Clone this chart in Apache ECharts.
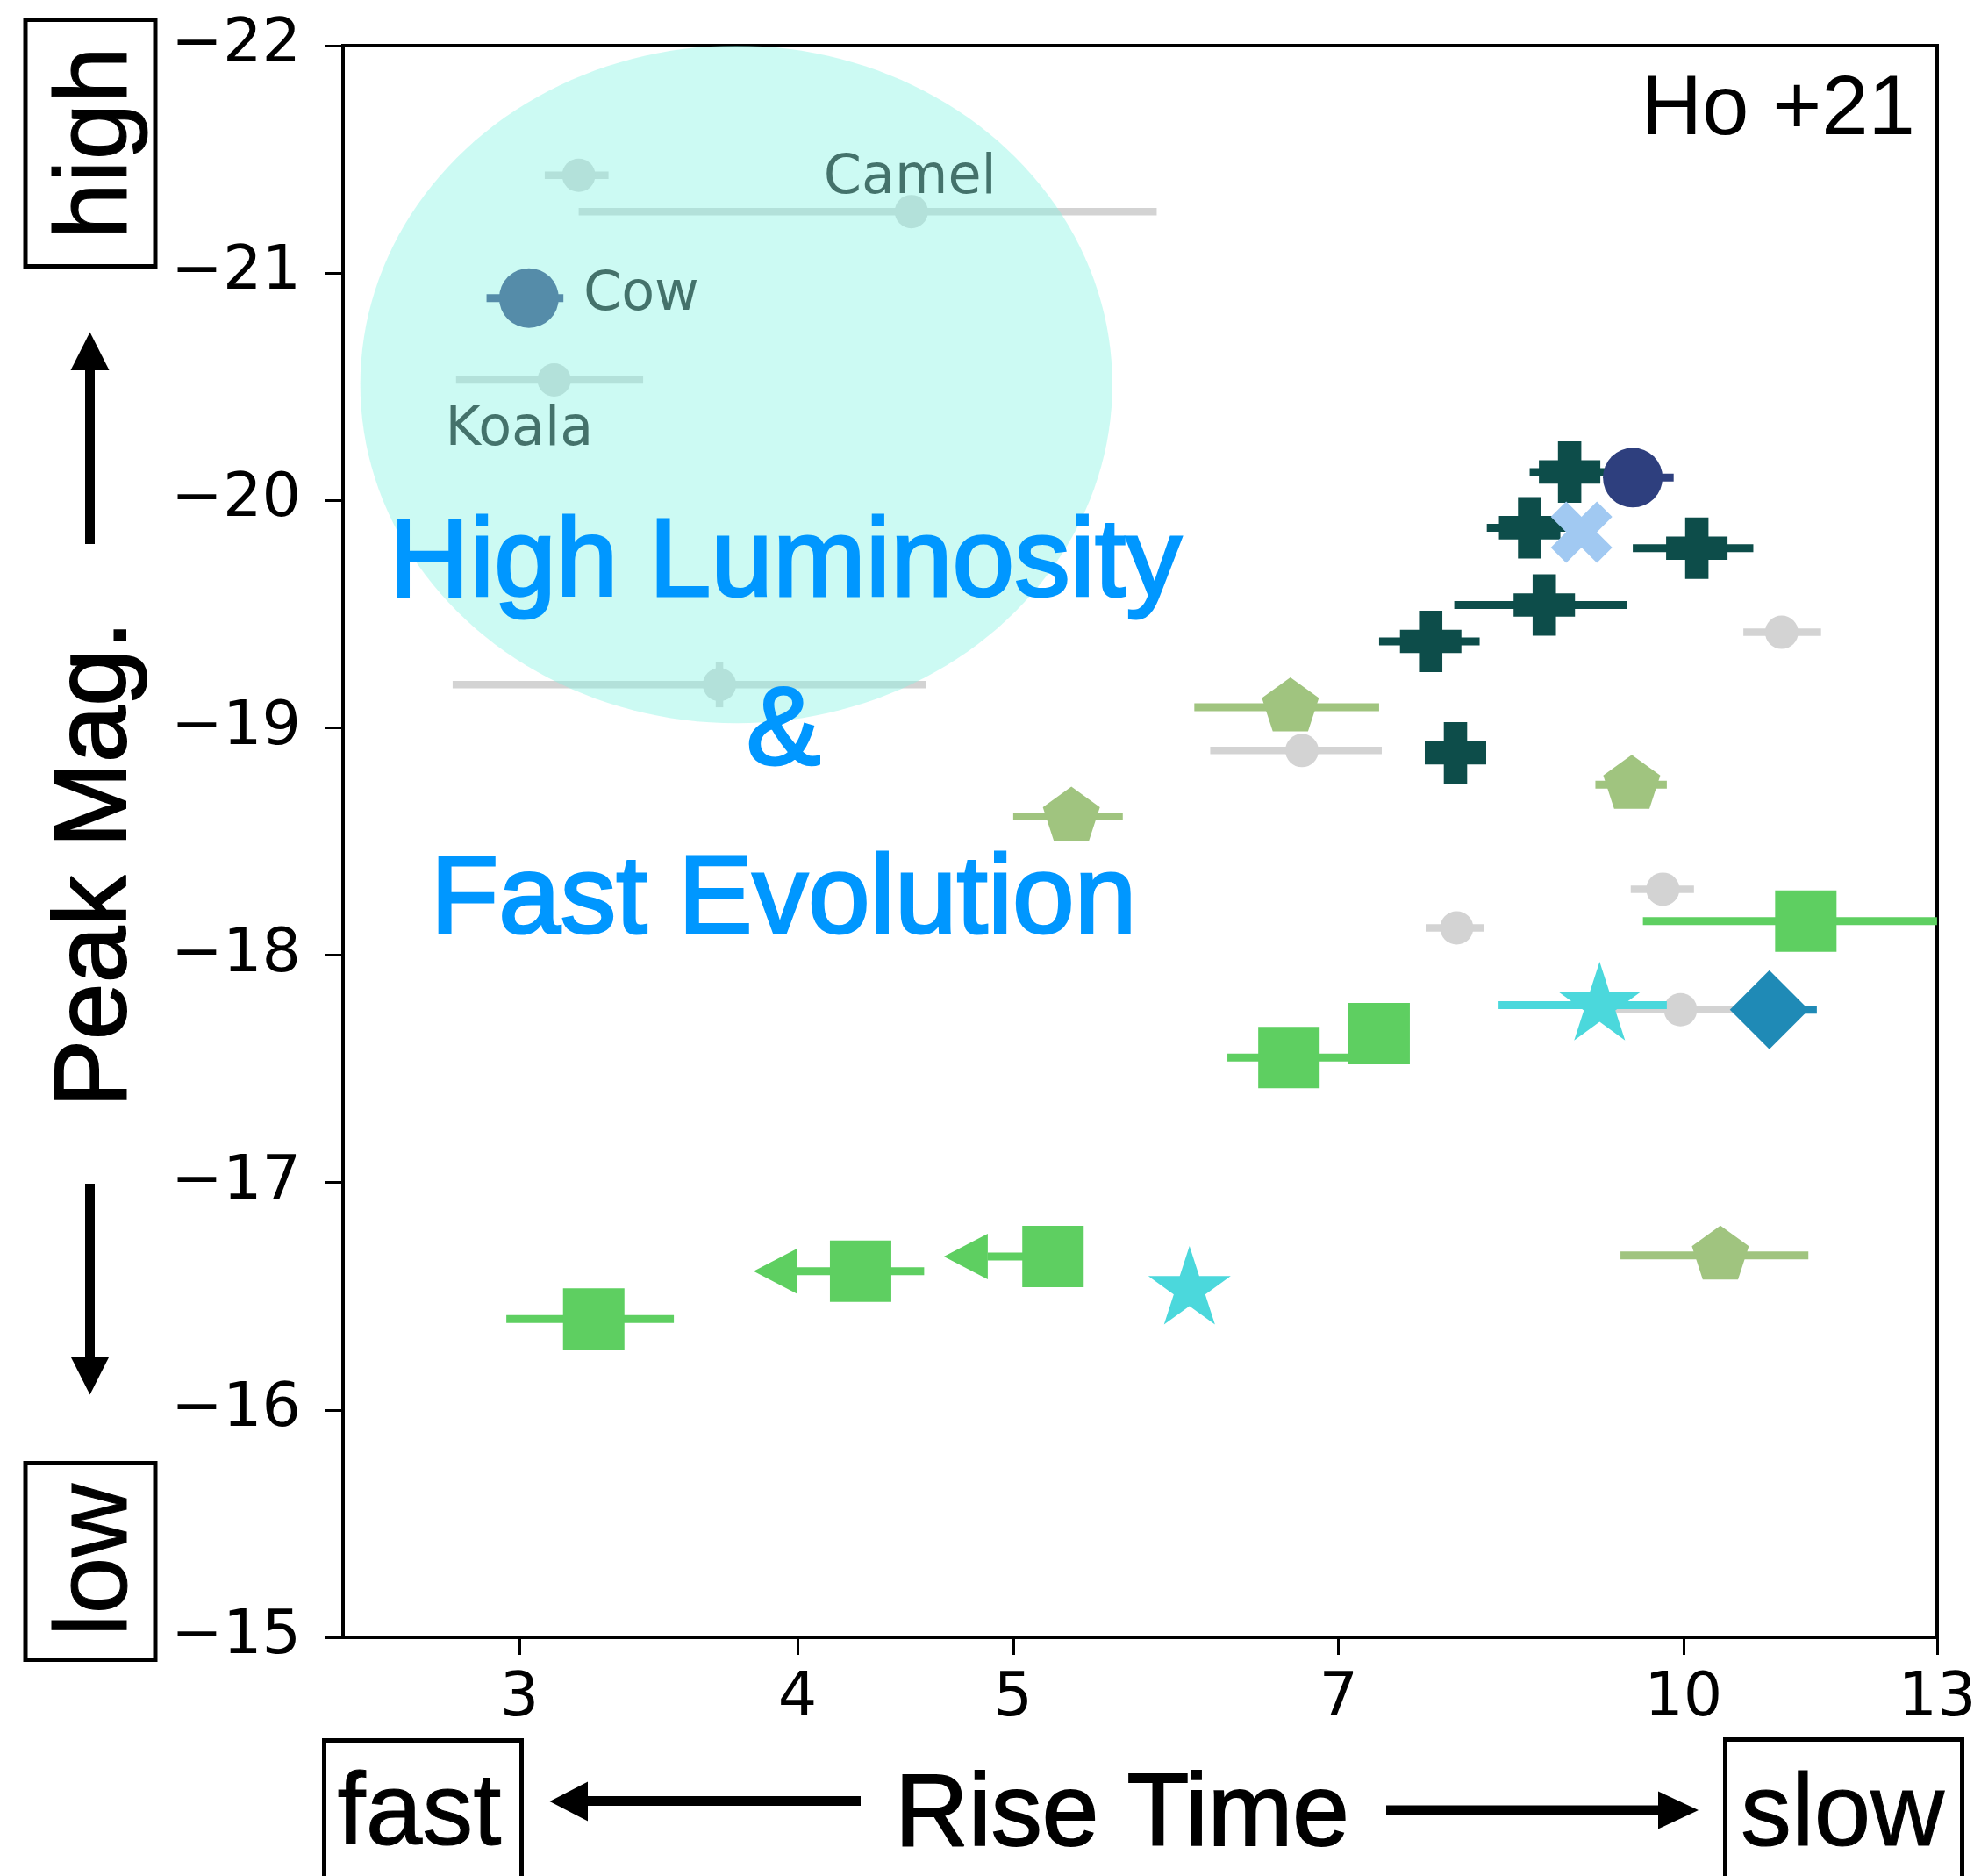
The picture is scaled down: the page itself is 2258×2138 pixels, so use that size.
<!DOCTYPE html>
<html>
<head>
<meta charset="utf-8">
<script src="https://cdn.jsdelivr.net/npm/echarts@6/dist/echarts.min.js"></script>
<style>
html,body{margin:0;padding:0;background:#fff;}
#chart{width:2258px;height:2138px;}
</style>
</head>
<body>
<div id="chart"></div>
<script>
// ---------------- data ----------------
const xTickValues = [3, 4, 5, 7, 10, 13];
const yRange = [-22, -15];

// rows: [riseTime (d), peakMag, riseLo, riseHi, magErr]
const otherTransients = [
  [3.19, -21.43, 3.08, 3.29, 0],
  [4.50, -21.27, 3.19, 5.80, 0],
  [3.11, -20.53, 2.81, 3.41, 0],
  [3.69, -19.19, 2.80, 4.57, 0.1],
  [6.74, -18.90, 6.13, 7.32, 0],
  [11.07, -19.42, 10.64, 11.53, 0],
  [9.79, -18.29, 9.47, 10.11, 0],
  [7.91, -18.12, 7.66, 8.14, 0],
  [9.97, -17.76, 9.29, 10.55, 0]
];
const otherNames = ['', 'Camel', 'Koala', '', '', '', '', '', ''];

const navyEvents = [
  [3.03, -20.89, 2.90, 3.14, 0],
  [9.49, -20.10, 9.21, 9.90, 0]
];
const navyNames = ['Cow', ''];

const tealEvents = [
  [8.89, -20.125, 8.53, 9.25, 0],
  [8.53, -19.88, 8.16, 8.90, 0],
  [10.14, -19.79, 9.49, 10.75, 0],
  [8.66, -19.54, 7.89, 9.43, 0],
  [7.70, -19.38, 7.30, 8.10, 0],
  [7.90, -18.89, 7.90, 7.90, 0]
];

const crossEvents = [
  [9.00, -19.86, 9.00, 9.00, 0]
];

const pentagonEvents = [
  [6.66, -19.09, 6.03, 7.30, 0],
  [5.31, -18.61, 5.00, 5.60, 0],
  [9.48, -18.75, 9.13, 9.83, 0],
  [10.39, -16.68, 9.37, 11.38, 0]
];

const squareEvents = [
  [3.24, -16.40, 2.96, 3.52, 0],
  [4.27, -16.61, 4.00, 4.56, 0],
  [5.21, -16.675, 4.87, 5.21, 0],
  [6.65, -17.55, 6.24, 7.07, 0],
  [7.30, -17.655, 7.30, 7.30, 0],
  [11.35, -18.15, 9.59, 13.0, 0]
];
const squareUpperLimit = [false, true, true, false, false, false];

const starEvents = [
  [6.00, -16.53, 6.00, 6.00, 0],
  [9.17, -17.78, 8.26, 9.83, 0]
];

const diamondEvents = [
  [10.93, -17.76, 10.53, 11.48, 0]
];

// highlighted region (rise time range, magnitude range)
const highlightRise = [2.545, 5.54];
const highlightMag = [-22.0, -19.02];

// ---------------- styles ----------------
const FONT_TICK = 'DejaVu Sans';
const FONT_ANN = 'Liberation Sans';
const labelOffsets = { Camel: [-100, -37], Cow: [62, -3], Koala: [-124, 58] };

const PLUS = 'path://M-0.38,-1L0.38,-1L0.38,-0.38L1,-0.38L1,0.38L0.38,0.38L0.38,1L-0.38,1L-0.38,0.38L-1,0.38L-1,-0.38L-0.38,-0.38Z';
const XFILL = 'path://M-1,-2L0,-1L1,-2L2,-1L1,0L2,1L1,2L0,1L-1,2L-2,1L-1,0L-2,-1Z';
const PENTA = 'path://M0,-1L0.951,-0.309L0.588,0.809L-0.588,0.809L-0.951,-0.309Z M0,1Z';
const STAR = 'path://M0,-1L0.2245,-0.309L0.951,-0.309L0.3633,0.118L0.588,0.809L0,0.382L-0.588,0.809L-0.3633,0.118L-0.951,-0.309L-0.2245,-0.309Z M0,1Z';

function errorBarSeries(rows, color, width, z, limits) {
  return {
    type: 'custom', z: z, silent: true, animation: false,
    data: rows.map((r, i) => [r[0], r[1], r[2], r[3], r[4], (limits && limits[i]) ? 1 : 0]),
    encode: { x: [0, 2, 3], y: 1 },
    renderItem: function (params, api) {
      const x = api.value(0), y = api.value(1), lo = api.value(2), hi = api.value(3);
      const me = api.value(4), lim = api.value(5);
      const a = api.coord([lo, y]), b = api.coord([hi, y]);
      const children = [];
      if (Math.abs(b[0] - a[0]) > 0.5) {
        children.push({ type: 'line', shape: { x1: a[0], y1: a[1], x2: b[0], y2: b[1] },
          style: { stroke: color, lineWidth: width, lineCap: 'butt' } });
      }
      if (me > 0) {
        const c = api.coord([x, y - me]), d = api.coord([x, y + me]);
        children.push({ type: 'line', shape: { x1: c[0], y1: c[1], x2: d[0], y2: d[1] },
          style: { stroke: color, lineWidth: width, lineCap: 'butt' } });
      }
      if (lim) {
        children.push({ type: 'polygon',
          shape: { points: [[a[0] - 50, a[1]], [a[0], a[1] - 26], [a[0], a[1] + 26]] },
          style: { fill: color } });
      }
      return { type: 'group', children: children };
    }
  };
}

function markerSeries(rows, names, symbol, size, color, z) {
  return {
    type: 'scatter', z: z, silent: true, animation: false,
    symbol: symbol, symbolSize: size,
    itemStyle: { color: color, opacity: 1 },
    emphasis: { disabled: true },
    data: rows.map((r, i) => {
      const item = { value: [r[0], r[1]] };
      const nm = names && names[i];
      if (nm) {
        item.name = nm;
        item.label = { show: true, formatter: nm, position: 'inside', offset: labelOffsets[nm],
          align: 'left', verticalAlign: 'middle', fontFamily: FONT_TICK, fontSize: 62,
          color: '#111', textBorderWidth: 0 };
      }
      return item;
    })
  };
}

const ellipseSeries = {
  type: 'custom', z: 30, silent: true, animation: false,
  data: [[highlightRise[0], highlightRise[1], highlightMag[0], highlightMag[1]]],
  encode: { x: [0, 1], y: [2, 3] },
  renderItem: function (params, api) {
    const p0 = api.coord([api.value(0), api.value(2)]);
    const p1 = api.coord([api.value(1), api.value(3)]);
    const cx = (p0[0] + p1[0]) / 2, cy = (p0[1] + p1[1]) / 2;
    const rx = Math.abs(p1[0] - p0[0]) / 2, ry = Math.abs(p1[1] - p0[1]) / 2;
    const pts = [];
    for (let i = 0; i < 180; i++) {
      const t = i / 180 * Math.PI * 2;
      pts.push([cx + rx * Math.cos(t), cy + ry * Math.sin(t)]);
    }
    return { type: 'polygon', shape: { points: pts }, style: { fill: 'rgba(137,243,227,0.43)' } };
  }
};

const C_GRAY = '#d3d3d3', C_NAVY = '#2e3f7e', C_TEAL = '#0d4d4a', C_LBLUE = '#a1c9f2',
      C_PENT = '#a0c47f', C_GREEN = '#5ecf61', C_CYAN = '#4bd8dc', C_DIAM = '#1f8ab6';

const series = [
  errorBarSeries(otherTransients, C_GRAY, 8.5, 2),
  markerSeries(otherTransients, otherNames, 'circle', 38, C_GRAY, 3),
  errorBarSeries(tealEvents, C_TEAL, 9, 4),
  markerSeries(tealEvents, null, PLUS, 70, C_TEAL, 5),
  errorBarSeries(navyEvents, C_NAVY, 9, 6),
  markerSeries(navyEvents, navyNames, 'circle', 68, C_NAVY, 7),
  markerSeries(crossEvents, null, XFILL, 70, C_LBLUE, 8),
  errorBarSeries(pentagonEvents, C_PENT, 9, 9),
  markerSeries(pentagonEvents, null, PENTA, [65, 68], C_PENT, 10),
  errorBarSeries(squareEvents, C_GREEN, 9, 11, squareUpperLimit),
  markerSeries(squareEvents, null, 'rect', 70, C_GREEN, 12),
  errorBarSeries(starEvents, C_CYAN, 9, 13),
  markerSeries(starEvents, null, STAR, [94, 99], C_CYAN, 14),
  errorBarSeries(diamondEvents, C_DIAM, 9, 15),
  markerSeries(diamondEvents, null, 'diamond', 90, C_DIAM, 16),
  ellipseSeries
];

// ---------------- annotations ----------------
function txt(text, x, y, size, opts) {
  opts = opts || {};
  const color = opts.color || '#000';
  return {
    type: 'text', x: x, y: y, z: 50, rotation: opts.rotation || 0, silent: true,
    style: { text: text, fontFamily: FONT_ANN, fontSize: size, fill: color,
      stroke: opts.bold ? color : null, lineWidth: opts.bold || 0,
      align: opts.align || 'center', verticalAlign: 'middle' }
  };
}
function box(x, y, w, h) {
  return { type: 'rect', z: 50, silent: true, shape: { x: x, y: y, width: w, height: h },
    style: { fill: null, stroke: '#000', lineWidth: 5 } };
}
function blk(shapeType, shape) {
  return { type: shapeType, z: 50, silent: true, shape: shape, style: { fill: '#000' } };
}
const R90 = Math.PI / 2;
const graphics = [
  box(29, 22.5, 148, 281),
  txt('high', 112, 163, 116, { rotation: R90, bold: 1 }),
  box(29, 1667.5, 148, 224),
  txt('low', 112, 1778, 116, { rotation: R90, bold: 1 }),
  txt('Peak Mag.', 111, 985, 116, { rotation: R90, bold: 2 }),
  blk('rect', { x: 97, y: 418, width: 11, height: 202 }),
  blk('polygon', { points: [[102.5, 378.6], [80.5, 422], [124.5, 422]] }),
  blk('rect', { x: 97, y: 1349, width: 11, height: 200 }),
  blk('polygon', { points: [[102.5, 1589.5], [80.5, 1546], [124.5, 1546]] }),
  box(369.5, 1983.5, 225, 250),
  txt('fast', 478, 2070, 116, { bold: 1 }),
  blk('rect', { x: 666, y: 2047, width: 315, height: 11 }),
  blk('polygon', { points: [[626.5, 2053], [670, 2030.5], [670, 2075.5]] }),
  txt('Rise Time', 1279, 2071, 116, { bold: 2 }),
  blk('rect', { x: 1580, y: 2057.5, width: 314, height: 11 }),
  blk('polygon', { points: [[1936, 2063], [1890, 2041.5], [1890, 2084.5]] }),
  box(1966.5, 1982.5, 270, 250),
  txt('slow', 2100, 2071, 116, { bold: 1 }),
  txt('Ho +21', 2183, 127, 96, { align: 'right' }),
  txt('High Luminosity', 895, 644, 127, { color: '#0097ff', bold: 3 }),
  txt('&', 893, 836, 127, { color: '#0097ff', bold: 3 }),
  txt('Fast Evolution', 893, 1028, 127, { color: '#0097ff', bold: 3 })
];

// ---------------- chart ----------------
const chart = echarts.init(document.getElementById('chart'), null, { renderer: 'canvas' });
chart.setOption({
  animation: false,
  backgroundColor: '#fff',
  grid: { left: 391, right: 50, top: 52, bottom: 272, show: true, borderColor: '#000',
    borderWidth: 4, backgroundColor: 'transparent', containLabel: false, outerBoundsMode: 'none' },
  xAxis: {
    type: 'log', logBase: 10, min: 2.5, max: 13.001,
    axisLine: { show: true, onZero: false, lineStyle: { color: '#000', width: 4 } },
    axisTick: { show: true, inside: false, length: 20, customValues: xTickValues,
      lineStyle: { color: '#000', width: 3 } },
    minorTick: { show: false },
    axisLabel: { show: true, customValues: xTickValues, margin: 36, fontFamily: FONT_TICK,
      fontSize: 70, color: '#000', formatter: function (v) { return String(Math.round(v)); } },
    splitLine: { show: false }, minorSplitLine: { show: false }
  },
  yAxis: {
    type: 'value', min: yRange[0], max: yRange[1], interval: 1, inverse: true,
    axisLine: { show: true, onZero: false, lineStyle: { color: '#000', width: 4 } },
    axisTick: { show: true, inside: false, length: 20, lineStyle: { color: '#000', width: 3 } },
    axisLabel: { show: true, margin: 48, fontFamily: FONT_TICK, fontSize: 70, color: '#000',
      formatter: function (v) { return (v < 0 ? '\u2212' : '') + Math.abs(v); } },
    splitLine: { show: false }
  },
  series: series,
  graphic: { elements: graphics }
});
</script>
</body>
</html>
